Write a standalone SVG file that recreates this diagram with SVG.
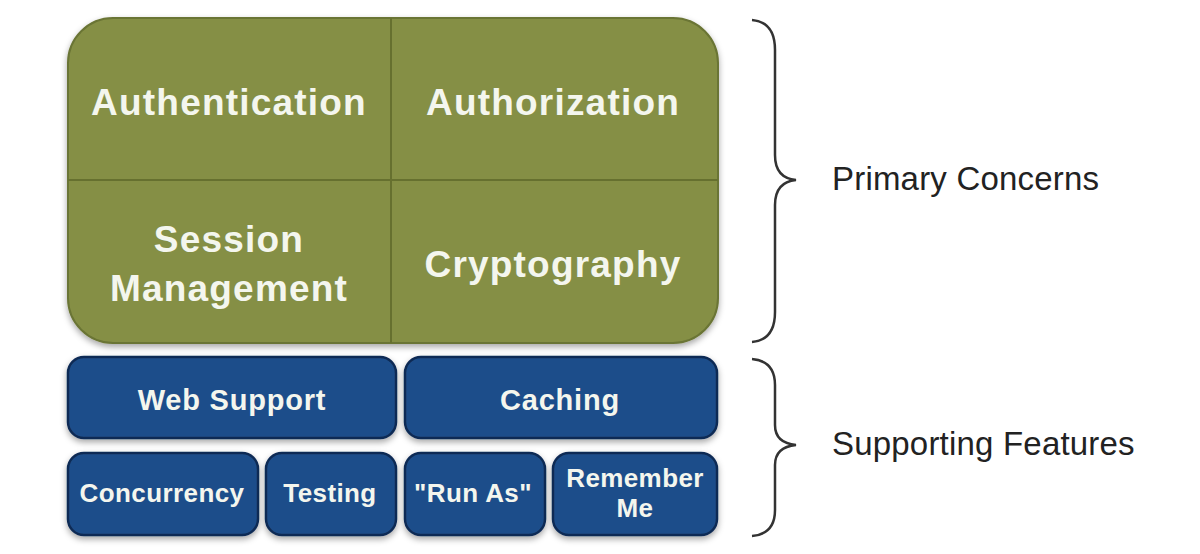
<svg xmlns="http://www.w3.org/2000/svg" width="1200" height="554" viewBox="0 0 1200 554">
<defs>
<filter id="sh" x="-10%" y="-10%" width="120%" height="130%"><feDropShadow dx="0" dy="3" stdDeviation="3" flood-color="#000" flood-opacity="0.35"/></filter>
</defs>
<style>
.g{fill:#858f45;stroke:#6a7434;stroke-width:2}
.b{fill:#1f4e8a;stroke:#0f2c55;stroke-width:2.5}
.t{font-family:"Liberation Sans",Arial,sans-serif;font-weight:bold;fill:#f4f6ee;text-anchor:middle}
.big{font-size:37px;letter-spacing:1.2px}
.mid{font-size:29px;letter-spacing:0.8px}
.sm{font-size:26px;letter-spacing:0.4px}
.l{font-family:"Liberation Sans",Arial,sans-serif;fill:#222;font-size:33px;letter-spacing:0.2px}
.br{fill:none;stroke:#333;stroke-width:2.5}
.dv{stroke:#66702f;stroke-width:2}
</style>
<rect width="1200" height="554" fill="#fff"/>
<g id="primary">
<rect class="g" x="68" y="18" width="650" height="325" rx="45" filter="url(#sh)"/>
<line class="dv" x1="391" y1="18" x2="391" y2="343"/>
<line class="dv" x1="68" y1="180" x2="718" y2="180"/>
</g>
<g id="authentication"><text class="t big" x="229" y="115">Authentication</text></g>
<g id="authorization"><text class="t big" x="553" y="115">Authorization</text></g>
<g id="session"><text class="t big" x="229" y="252">Session</text><text class="t big" x="229" y="301">Management</text></g>
<g id="cryptography"><text class="t big" x="553" y="277">Cryptography</text></g>
<g id="web"><rect class="b" x="68" y="357" width="328" height="81" rx="16" filter="url(#sh)"/><text class="t mid" x="232" y="410">Web Support</text></g>
<g id="caching"><rect class="b" x="405" y="357" width="312" height="81" rx="16" filter="url(#sh)"/><text class="t mid" x="560" y="410">Caching</text></g>
<g id="concurrency"><rect class="b" x="68" y="453" width="190" height="82" rx="16" filter="url(#sh)"/><text class="t sm" x="162" y="502">Concurrency</text></g>
<g id="testing"><rect class="b" x="266" y="453" width="130" height="82" rx="16" filter="url(#sh)"/><text class="t sm" x="330" y="502">Testing</text></g>
<g id="runas"><rect class="b" x="405" y="453" width="140" height="82" rx="16" filter="url(#sh)"/><text class="t sm" x="473" y="502">"Run As"</text></g>
<g id="remember"><rect class="b" x="553" y="453" width="164" height="82" rx="16" filter="url(#sh)"/><text class="t sm" x="635" y="487">Remember</text><text class="t sm" x="635" y="517">Me</text></g>
<g id="connectors">
<path class="br" d="M752 20 Q775 22 775 50 L775 155 Q775 178 796 180 Q775 182 775 205 L775 312 Q775 340 752 342"/>
<path class="br" d="M752 359 Q775 361 775 385 L775 425 Q775 443 796 445 Q775 447 775 465 L775 510 Q775 534 752 536"/>
</g>
<g id="labels">
<text class="l" x="832" y="190">Primary Concerns</text>
<text class="l" x="832" y="455">Supporting Features</text>
</g>
</svg>
